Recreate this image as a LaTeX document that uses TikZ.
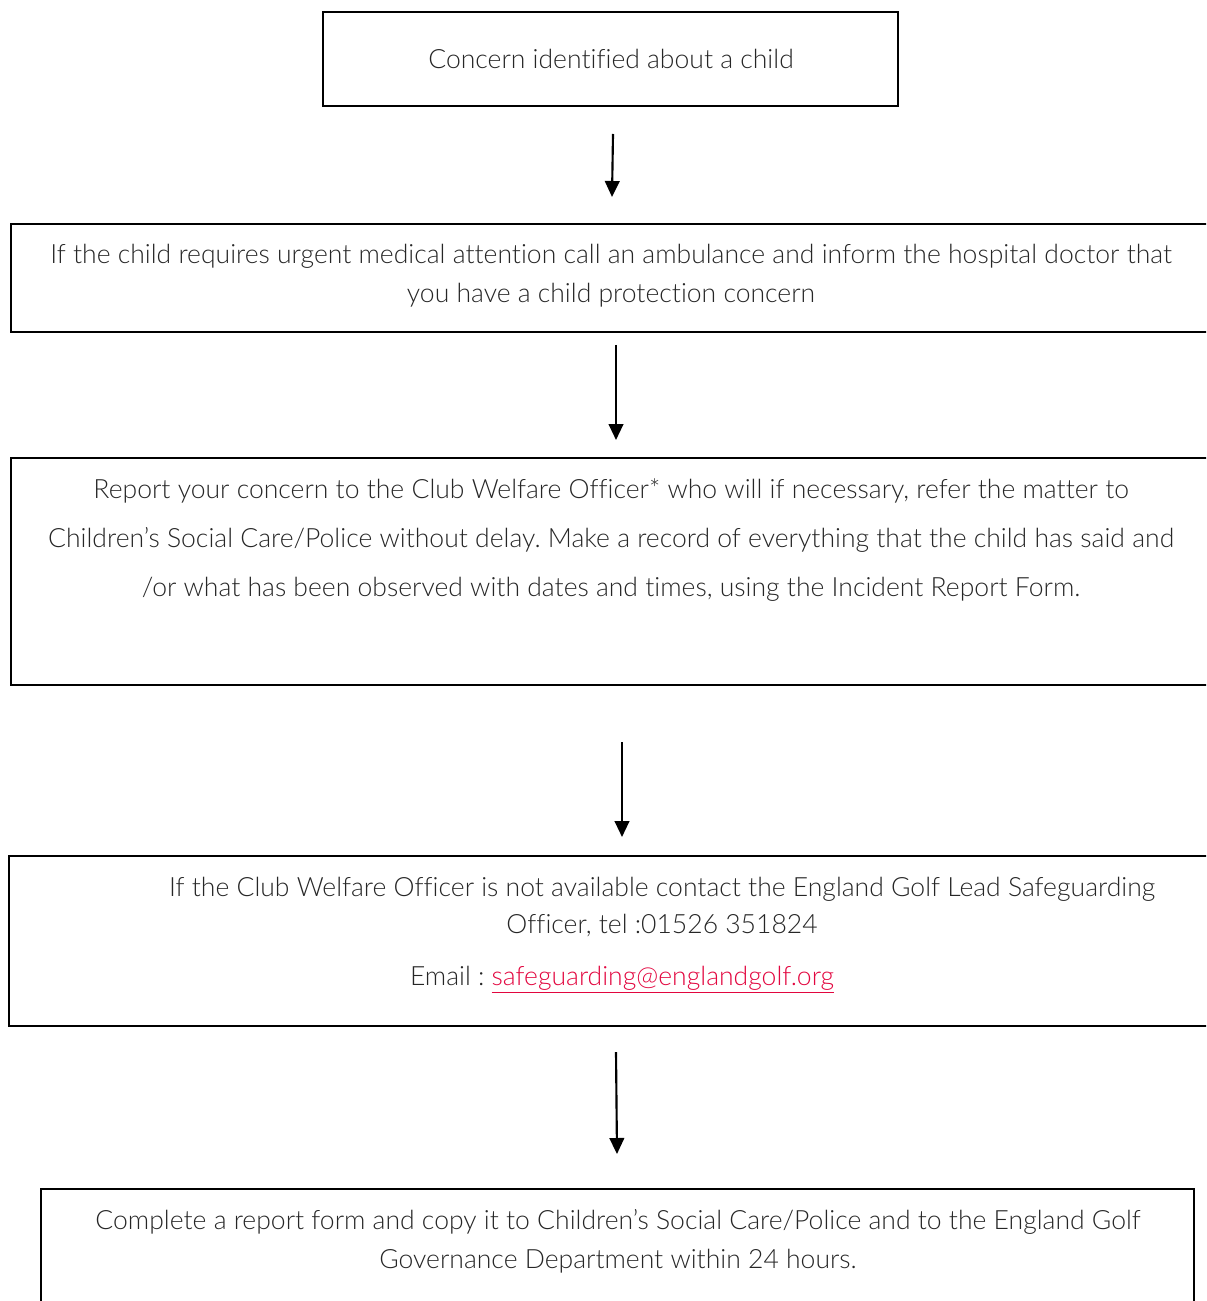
\documentclass[tikz,border=0pt]{standalone}
\usepackage{fontspec}
\setmainfont{Lato Light}[Ligatures={NoCommon}]
\usetikzlibrary{arrows.meta}
\definecolor{linkred}{HTML}{E2063F}
\definecolor{txtgray}{HTML}{262626}
\begin{document}
\frenchspacing
\begin{tikzpicture}[x=0.75pt,y=-0.75pt,
  box/.style={draw=black, line width=2.1pt, inner sep=0pt, rectangle},
  txt/.style={text=txtgray, align=center, inner sep=0pt, font=\fontsize{19.9}{29.25}\selectfont},
  arr/.style={line width=1.6pt, -{Triangle[width=11pt,length=12pt]}}]
\useasboundingbox (0,0) rectangle (1206,1301);
\clip (0,0) rectangle (1206,1301);
% boxes
\node[box, minimum width=575*0.75pt, minimum height=94*0.75pt] (b1) at (610.5,59) {};
\node[box, minimum width=1204*0.75pt, minimum height=108*0.75pt] (b2) at (613,278) {};
\node[box, minimum width=1204*0.75pt, minimum height=227*0.75pt] (b3) at (613,571.5) {};
\node[box, minimum width=1206*0.75pt, minimum height=170*0.75pt] (b4) at (612,941) {};
\node[box, minimum width=1153*0.75pt, minimum height=140*0.75pt] (b5) at (617.5,1259) {};
% texts
\node[txt] (t1) at (611,59) {Concern identified about a child};
\node[txt] (t2) at (611,276) {If the child requires urgent medical attention call an ambulance and inform the hospital doctor that\\you have a child protection concern};
\node[txt, font=\fontsize{19.9}{37}\selectfont] (t3) at (611,540) {Report your concern to the Club Welfare Officer* who will if necessary, refer the matter to\\Children’s Social Care/Police without delay. Make a record of everything that the child has said and\\/or what has been observed with dates and times, using the Incident Report Form.};
\node[txt, font=\fontsize{19.9}{27.75}\selectfont] (t4a) at (662,907) {If the Club Welfare Officer is not available contact the England Golf Lead Safeguarding\\Officer, tel :01526 351824};
\node[txt] (t4b) at (622,980) {Email : \textcolor{linkred}{\underline{safeguarding@englandgolf.org}}};
\node[txt] (t5) at (618,1241) {Complete a report form and copy it to Children’s Social Care/Police and to the England Golf\\Governance Department within 24 hours.};
% arrow ends
\coordinate (a1s) at (613,134); \coordinate (a1e) at (612,197);
\coordinate (a2s) at (616,345); \coordinate (a2e) at (616,440);
\coordinate (a3s) at (622,742); \coordinate (a3e) at (622,837);
\coordinate (a4s) at (616,1052); \coordinate (a4e) at (617,1154);
\draw[arr] (a1s) -- (a1e);
\draw[arr] (a2s) -- (a2e);
\draw[arr] (a3s) -- (a3e);
\draw[arr] (a4s) -- (a4e);
\end{tikzpicture}
\end{document}
